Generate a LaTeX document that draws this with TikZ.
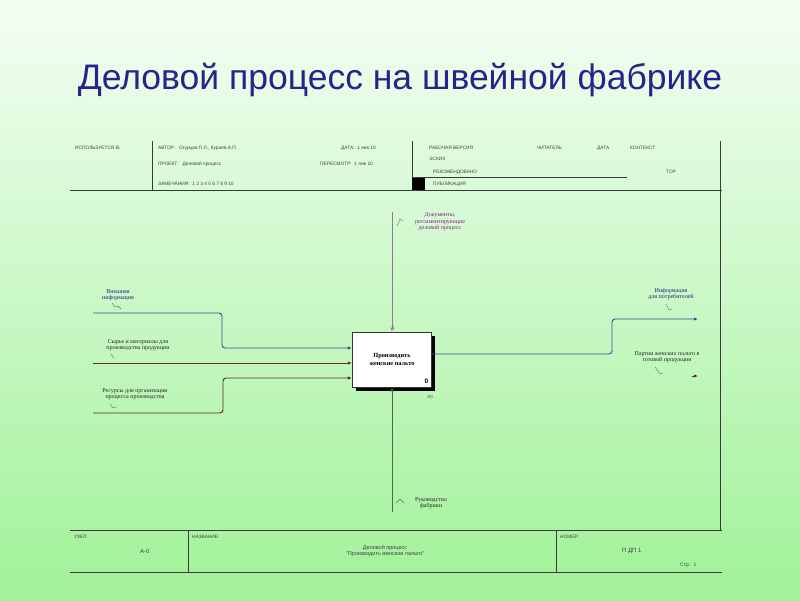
\documentclass[tikz,border=0pt]{standalone}
\usepackage{fontspec}
\setmainfont{Liberation Serif}
\newfontfamily\arialf{Liberation Sans}
\usetikzlibrary{arrows.meta}
\definecolor{titleblue}{HTML}{24248C}
\definecolor{framec}{HTML}{3A3A3A}
\definecolor{inblue}{HTML}{2E4FA0}
\definecolor{inbrown}{HTML}{6B3420}
\definecolor{ctrlc}{HTML}{8C7C96}
\definecolor{mechc}{HTML}{4A6A4A}
\definecolor{purplet}{HTML}{8A1A8A}
\definecolor{navyt}{HTML}{1A2A7A}
\tikzset{
  frame/.style={draw=framec, line width=0.9pt},
  hdr/.style={font=\arialf\fontsize{4.8}{5.3}\selectfont, text=black!75, inner sep=0pt, anchor=west},
  lbl/.style={font=\fontsize{6}{6.6}\selectfont, align=center, inner sep=0pt},
  conn/.style={line width=0.9pt, rounded corners=3pt},
  tip/.style={-{Latex[length=4pt,width=3.4pt]}},
  tickm/.style={draw=black!60, line width=0.4pt}
}
\begin{document}
\begin{tikzpicture}[x=1pt,y=-1pt]
\useasboundingbox (0,0) rectangle (800,600);
\shade[top color={rgb,255:red,244;green,254;blue,244}, bottom color={rgb,255:red,160;green,242;blue,152}] (0,0) rectangle (800,600);

% title
\node[font=\arialf\fontsize{35.5}{40}\selectfont, text=titleblue, anchor=base] (title) at (400,89) {Деловой процесс на швейной фабрике};

% header frame
\draw[frame] (70,190) -- (722,190);
\draw[frame] (152,141) -- (152,190);
\draw[frame] (412,141) -- (412,190);
\draw[frame] (412,177.5) -- (627,177.5);
\fill[black] (412,178) rectangle (425,190);
\draw[frame] (720,141) -- (720,530);

% header texts
\node[hdr] (h1) at (75,148) {ИСПОЛЬЗУЕТСЯ В:};
\node[hdr] (h2) at (158,148) {АВТОР: \ \ Огурцов П.Л., Кураев А.П.};
\node[hdr] (h3) at (341,148) {ДАТА: \ 1 янв 10};
\node[hdr] (h4) at (158,164) {ПРОЕКТ: \ \ Деловой процесс};
\node[hdr] (h5) at (320,164) {ПЕРЕСМОТР: \ 1 янв 10};
\node[hdr] (h6) at (158,184) {ЗАМЕЧАНИЯ: \ 1 2 3 4 5 6 7 8 9 10};
\node[hdr] (h7) at (429,148) {РАБОЧАЯ ВЕРСИЯ};
\node[hdr] (h8) at (537,148) {ЧИТАТЕЛЬ};
\node[hdr] (h9) at (597,148) {ДАТА};
\node[hdr] (h10) at (630,148) {КОНТЕКСТ:};
\node[hdr] (h11) at (429,159) {ЭСКИЗ};
\node[hdr] (h12) at (433,172) {РЕКОМЕНДОВАНО};
\node[hdr] (h13) at (433,184) {ПУБЛИКАЦИЯ};
\node[hdr] (h14) at (666,172) {TOP};

% footer frame
\draw[frame] (70,530) -- (722,530);
\draw[frame] (70,572) -- (722,572);
\draw[frame] (188,530) -- (188,572);
\draw[frame] (556,530) -- (556,572);
\node[hdr] (f1) at (74,537) {УЗЕЛ:};
\node[hdr,font=\arialf\fontsize{6}{7}\selectfont] (f2) at (140,551) {А-0};
\node[hdr] (f3) at (192,537) {НАЗВАНИЕ:};
\node[lbl,font=\arialf\fontsize{5.5}{6.5}\selectfont, text=black!75] (f4) at (385,551) {Деловой процесс\\"Производить женские пальто"};
\node[hdr] (f5) at (560,537) {НОМЕР:};
\node[hdr,font=\arialf\fontsize{6}{7}\selectfont] (f6) at (622,551) {П ДП 1};
\node[hdr,font=\arialf\fontsize{5}{6}\selectfont] (f7) at (680,565) {Стр. \ 1};

% activity box
\fill[black] (355.5,335.5) rectangle (435,390.5);
\node[draw=black!80, fill=white, line width=0.8pt, minimum width=79.5pt, minimum height=55pt, inner sep=0pt,
      font=\bfseries\fontsize{6.3}{7.5}\selectfont, align=center] (box) at (392,359.5) {Производить\\женские пальто};
\node[font=\bfseries\arialf\fontsize{6.5}{7}\selectfont, inner sep=0pt] (zero) at (426.5,381) {0};
\node[font=\arialf\fontsize{6}{7}\selectfont, text=purplet, inner sep=0pt] (one) at (393,327) {1};
\node[font=\arialf\fontsize{4.5}{5}\selectfont, text=black!70, inner sep=0pt] (a0) at (430,397) {А0};

% inputs
\coordinate (i1s) at (93,313);
\coordinate (i2s) at (93,363);
\coordinate (i3s) at (93,413);
\draw[conn, draw=inblue, tip] (i1s) -- (222,313) -- (222,348) -- ([yshift=11.5pt]box.west);
\draw[conn, draw=inbrown, tip] (i2s) -- ([yshift=-3.5pt]box.west);
\draw[conn, draw=inbrown!80!black, tip] (i3s) -- (223,413) -- (223,378) -- ([yshift=-18.5pt]box.west);

\node[lbl, text=navyt] (l1) at (118,295) {Внешняя\\информация};
\node[lbl, text=black!85] (l2) at (138,345) {Сырье и материалы для\\производства продукции};
\node[lbl, text=black!85] (l3) at (135,394) {Ресурсы для организации\\процесса производства};
\draw[tickm] (112,303) -- (115,307) -- (118,306) -- (121,309);
\draw[tickm] (111,354) -- (114,358);
\draw[tickm] (110,404) -- (113,408) -- (116,407);

% control
\coordinate (cs) at (392,212);
\draw[line width=0.9pt, draw=ctrlc, tip] (cs) -- (box.north);
\node[lbl, text=purplet] (lc) at (440,222) {Документы,\\регламентирующие\\деловой процесс};
\draw[tickm] (397,226) -- (400,219) -- (403,221);

% mechanism
\coordinate (ms) at (392,512);
\draw[line width=0.9pt, draw=mechc, tip] (ms) -- (box.south);
\node[lbl, text=black!85] (lm) at (431,503) {Руководство\\фабрики};
\draw[tickm] (396,503) -- (400,499) -- (404,503);

% outputs
\coordinate (o1e) at (698,319);
\draw[conn, draw=inblue, tip] ([yshift=5.5pt]box.east) -- (612,354) -- (612,319) -- (o1e);
\node[lbl, text=navyt] (lo1) at (671,294) {Информация\\для потребителей};
\draw[tickm] (666,304) -- (669,310) -- (672,309);

\coordinate (o2s) at (692,376);
\coordinate (o2e) at (698,376);
\draw[line width=0.9pt, draw=inbrown, tip] (o2s) -- (o2e);
\node[lbl, text=black!85] (lo2) at (667,357) {Партии женских пальто в\\готовой продукции};
\draw[tickm] (655,367) -- (660,374) -- (663,373);
\end{tikzpicture}
\end{document}
